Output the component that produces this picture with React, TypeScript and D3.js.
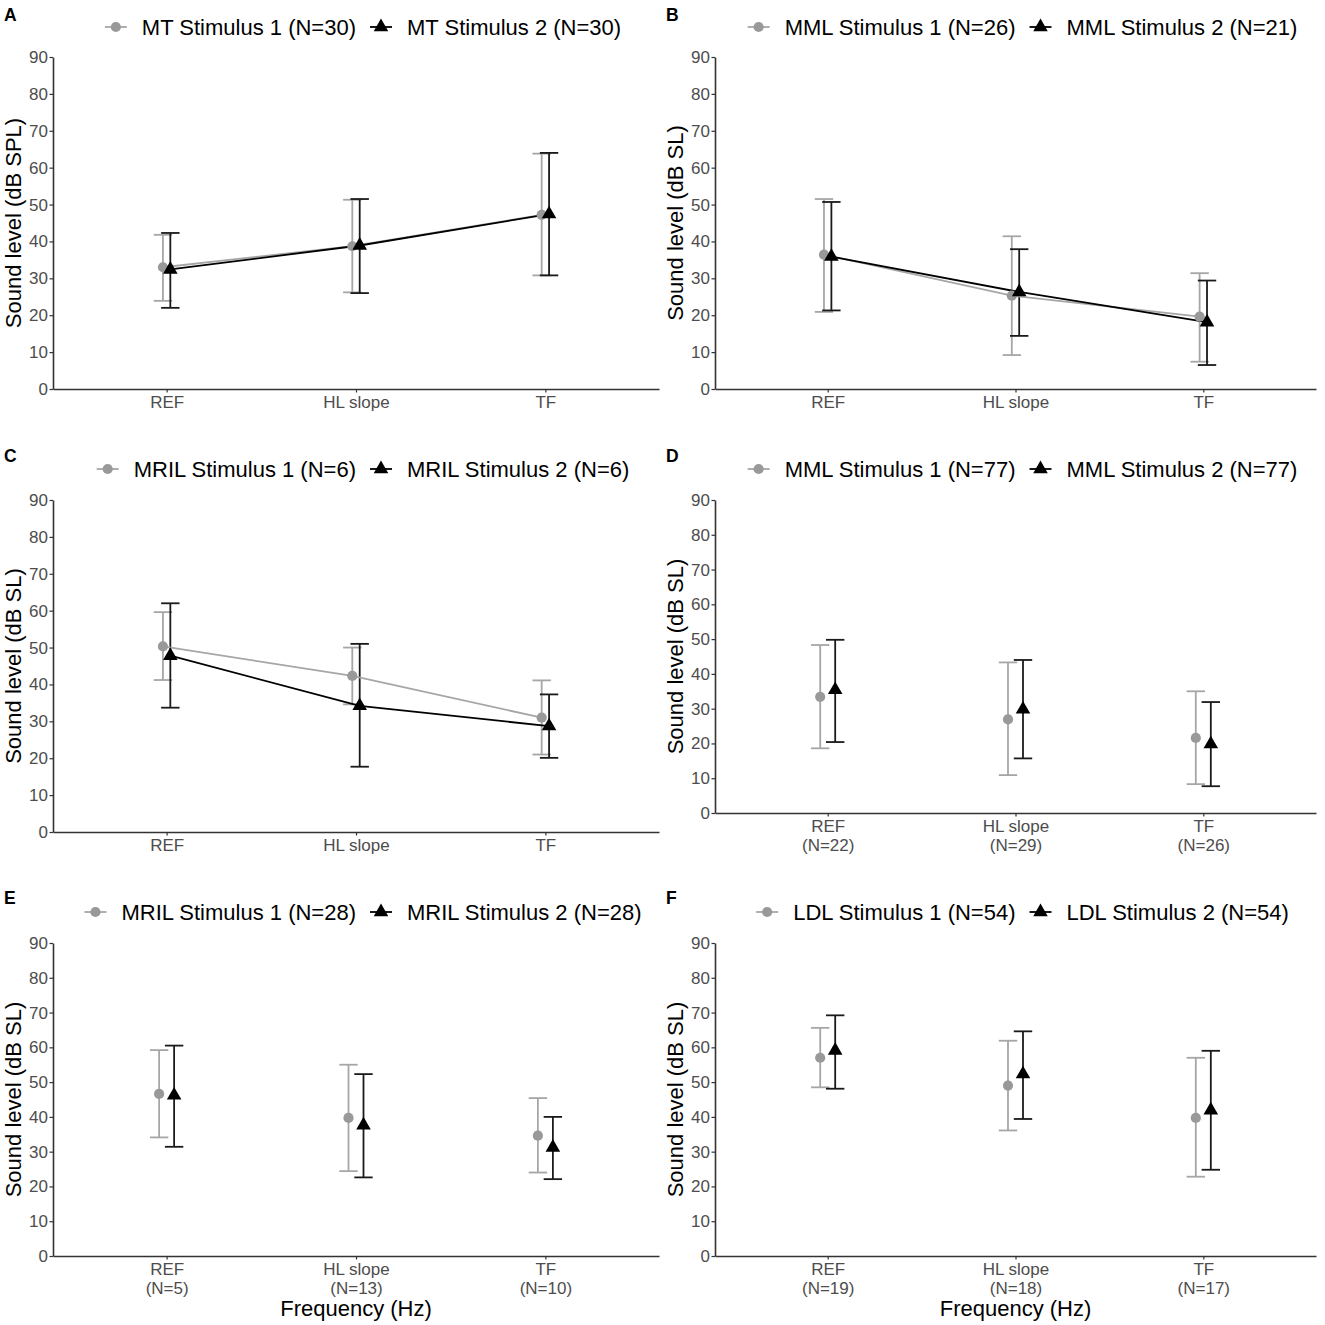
import React, { useEffect, useRef } from "react";
import * as d3 from "d3";

// categories on the x axis
const categories = ["REF", "HL slope", "TF"];
const panelLetters = ["A", "B", "C", "D", "E", "F"];

// legend labels per panel (stimulus 1, stimulus 2)
const legendStim1 = [
  "MT Stimulus 1 (N=30)",
  "MML Stimulus 1 (N=26)",
  "MRIL Stimulus 1 (N=6)",
  "MML Stimulus 1 (N=77)",
  "MRIL Stimulus 1 (N=28)",
  "LDL Stimulus 1 (N=54)",
];
const legendStim2 = [
  "MT Stimulus 2 (N=30)",
  "MML Stimulus 2 (N=21)",
  "MRIL Stimulus 2 (N=6)",
  "MML Stimulus 2 (N=77)",
  "MRIL Stimulus 2 (N=28)",
  "LDL Stimulus 2 (N=54)",
];
const yTitles = [
  "Sound level (dB SPL)",
  "Sound level (dB SL)",
  "Sound level (dB SL)",
  "Sound level (dB SL)",
  "Sound level (dB SL)",
  "Sound level (dB SL)",
];
// second line under the category names (only D, E, F)
const nLabels: (string[] | null)[] = [
  null,
  null,
  null,
  ["(N=22)", "(N=29)", "(N=26)"],
  ["(N=5)", "(N=13)", "(N=10)"],
  ["(N=19)", "(N=18)", "(N=17)"],
];
const yTicks = [0, 10, 20, 30, 40, 50, 60, 70, 80, 90];

// stimulus 1: mean, lower, upper
const stim1Mean = [
  [33.0, 38.7, 47.2],
  [36.4, 25.3, 19.6],
  [50.3, 42.3, 31.0],
  [33.4, 26.9, 21.6],
  [46.6, 39.7, 34.6],
  [57.0, 49.0, 39.7],
];
const stim1Low = [
  [23.9, 26.2, 30.8],
  [20.9, 9.2, 7.4],
  [41.2, 34.6, 21.0],
  [18.6, 10.9, 8.3],
  [34.1, 24.4, 24.0],
  [48.5, 36.1, 22.8],
];
const stim1High = [
  [41.8, 51.3, 63.8],
  [51.5, 41.4, 31.4],
  [59.6, 50.0, 41.1],
  [48.3, 43.3, 35.0],
  [59.2, 55.0, 45.4],
  [65.6, 61.9, 57.0],
];

// stimulus 2: mean, lower, upper
const stim2Mean = [
  [32.4, 38.9, 47.4],
  [35.9, 26.3, 18.1],
  [47.8, 34.2, 28.7],
  [35.4, 29.8, 19.8],
  [46.2, 37.6, 31.2],
  [59.1, 52.3, 41.9],
];
const stim2Low = [
  [22.0, 26.0, 30.8],
  [21.3, 14.4, 6.5],
  [33.7, 17.7, 20.1],
  [20.4, 15.7, 7.7],
  [31.4, 22.6, 22.1],
  [48.1, 39.4, 24.8],
];
const stim2High = [
  [42.3, 51.5, 64.0],
  [50.7, 37.9, 29.4],
  [62.0, 51.0, 37.3],
  [49.8, 44.0, 31.9],
  [60.5, 52.3, 40.0],
  [69.2, 64.6, 59.0],
];

const showLines = [true, true, true, false, false, false];
const showXTitle = [false, false, false, false, true, true];

const FONT = "'Liberation Sans', Arial, Helvetica, sans-serif";
const GRAY_PT = "#999999";
const GRAY_LINE = "#a6a6a6";
const BLACK = "#000000";

const App: React.FC = () => {
  const ref = useRef<SVGSVGElement | null>(null);

  useEffect(() => {
    const svg = d3.select(ref.current);
    svg.selectAll("*").remove();

    // panel frames (pixel layout)
    const frames = [
      { x0: 53, x1: 659, top: 57, bottom: 389, row: 0, dodge: 3.7 },
      { x0: 715, x1: 1316, top: 57, bottom: 389, row: 0, dodge: 3.7 },
      { x0: 53, x1: 659, top: 500, bottom: 832, row: 1, dodge: 3.7 },
      { x0: 715, x1: 1316, top: 500, bottom: 813, row: 1, dodge: 7.5 },
      { x0: 53, x1: 659, top: 943, bottom: 1256, row: 2, dodge: 7.5 },
      { x0: 715, x1: 1316, top: 943, bottom: 1256, row: 2, dodge: 7.5 },
    ];
    const legendY = [27, 469, 912];
    const letterY = [21, 462, 904];

    frames.forEach((f, i) => {
      const g = svg.append("g");
      const x = d3.scalePoint<string>().domain(categories).range([f.x0, f.x1]).padding(0.6);
      const y = d3.scaleLinear().domain([0, 90]).range([f.bottom, f.top]);

      // panel letter
      g.append("text")
        .attr("x", i % 2 === 0 ? 4 : 666)
        .attr("y", letterY[f.row])
        .attr("font-family", FONT)
        .attr("font-weight", "bold")
        .attr("font-size", 17.5)
        .text(panelLetters[i]);

      // y axis
      const ya = g
        .append("g")
        .attr("transform", `translate(${f.x0},0)`)
        .call(d3.axisLeft(y).tickValues(yTicks).tickSize(3.5).tickSizeOuter(0).tickPadding(1.5));
      ya.select(".domain").attr("stroke", "#333").attr("stroke-width", 1.6);
      ya.selectAll(".tick line").attr("stroke", "#333").attr("stroke-width", 1.2);
      ya.selectAll(".tick text")
        .attr("font-family", FONT)
        .attr("font-size", 17)
        .attr("fill", "#4d4d4d");

      // x axis
      const xa = g
        .append("g")
        .attr("transform", `translate(0,${f.bottom})`)
        .call(d3.axisBottom(x).tickSize(3.5).tickSizeOuter(0));
      xa.select(".domain").attr("stroke", "#333").attr("stroke-width", 1.6);
      xa.selectAll(".tick line").attr("stroke", "#333").attr("stroke-width", 1.2);
      const extra = nLabels[i];
      xa.selectAll<SVGTextElement, string>(".tick text").each(function (d, k) {
        const t = d3.select(this);
        t.text(null).attr("y", 0).attr("dy", null)
          .attr("font-family", FONT)
          .attr("font-size", 17)
          .attr("fill", "#4d4d4d");
        t.append("tspan").attr("x", 0).attr("y", 19).text(d);
        if (extra) t.append("tspan").attr("x", 0).attr("y", 38).text(extra[k]);
      });

      // y title
      g.append("text")
        .attr("transform", `translate(${f.x0 - 32},${(f.top + f.bottom) / 2}) rotate(-90)`)
        .attr("text-anchor", "middle")
        .attr("font-family", FONT)
        .attr("font-size", 22)
        .text(yTitles[i]);

      if (showXTitle[i]) {
        g.append("text")
          .attr("x", (f.x0 + f.x1) / 2)
          .attr("y", 1316)
          .attr("text-anchor", "middle")
          .attr("font-family", FONT)
          .attr("font-size", 22)
          .text("Frequency (Hz)");
      }

      const series = [
        { mean: stim1Mean[i], lo: stim1Low[i], hi: stim1High[i], off: -f.dodge, bar: GRAY_LINE, pt: GRAY_PT, tri: false },
        { mean: stim2Mean[i], lo: stim2Low[i], hi: stim2High[i], off: f.dodge, bar: "#1a1a1a", pt: BLACK, tri: true },
      ];

      // error bars
      series.forEach((s) => {
        const eb = g.append("g").attr("stroke", s.bar).attr("stroke-width", 1.8).attr("fill", "none");
        categories.forEach((c, k) => {
          const cx = (x(c) as number) + s.off;
          eb.append("line").attr("x1", cx).attr("x2", cx).attr("y1", y(s.lo[k])).attr("y2", y(s.hi[k]));
          eb.append("line").attr("x1", cx - 9.2).attr("x2", cx + 9.2).attr("y1", y(s.lo[k])).attr("y2", y(s.lo[k]));
          eb.append("line").attr("x1", cx - 9.2).attr("x2", cx + 9.2).attr("y1", y(s.hi[k])).attr("y2", y(s.hi[k]));
        });
      });

      // connecting lines
      if (showLines[i]) {
        series.forEach((s) => {
          const line = d3
            .line<number>()
            .x((_, k) => (x(categories[k]) as number) + s.off)
            .y((v) => y(v));
          g.append("path")
            .attr("d", line(s.mean))
            .attr("fill", "none")
            .attr("stroke", s.tri ? BLACK : GRAY_LINE)
            .attr("stroke-width", 1.8);
        });
      }

      // points
      const tri = d3.symbol().type(d3.symbolTriangle).size(92);
      series.forEach((s) => {
        categories.forEach((c, k) => {
          const cx = (x(c) as number) + s.off;
          if (s.tri) {
            g.append("path").attr("d", tri()).attr("transform", `translate(${cx},${y(s.mean[k])})`).attr("fill", s.pt);
          } else {
            g.append("circle").attr("cx", cx).attr("cy", y(s.mean[k])).attr("r", 5.1).attr("fill", s.pt);
          }
        });
      });

      // legend
      const lg = g.append("g");
      const t1 = lg.append("text").attr("font-family", FONT).attr("font-size", 22).attr("y", 8).text(legendStim1[i]);
      const t2 = lg.append("text").attr("font-family", FONT).attr("font-size", 22).attr("y", 8).text(legendStim2[i]);
      const w1 = (t1.node() as SVGTextElement).getComputedTextLength();
      const w2 = (t2.node() as SVGTextElement).getComputedTextLength();
      const total = 88 + w1 + w2;
      const left = (f.x0 + f.x1) / 2 + 7 - total / 2;
      const c1 = left + 11;
      const c2 = c1 + 26 + w1 + 25;
      t1.attr("x", c1 + 26);
      t2.attr("x", c2 + 26);
      lg.attr("transform", `translate(0,${legendY[f.row]})`);
      lg.append("line").attr("x1", c1 - 11).attr("x2", c1 + 11).attr("stroke", GRAY_LINE).attr("stroke-width", 1.8);
      lg.append("circle").attr("cx", c1).attr("cy", 0).attr("r", 5.1).attr("fill", GRAY_PT);
      lg.append("line").attr("x1", c2 - 11).attr("x2", c2 + 11).attr("stroke", BLACK).attr("stroke-width", 1.8);
      lg.append("path").attr("d", tri()).attr("transform", `translate(${c2},0)`).attr("fill", BLACK);
    });
  }, []);

  return (
    <svg
      ref={ref}
      width={1325}
      height={1325}
      style={{ position: "absolute", left: 0, top: 0, background: "#fff" }}
    />
  );
};

export default App;
